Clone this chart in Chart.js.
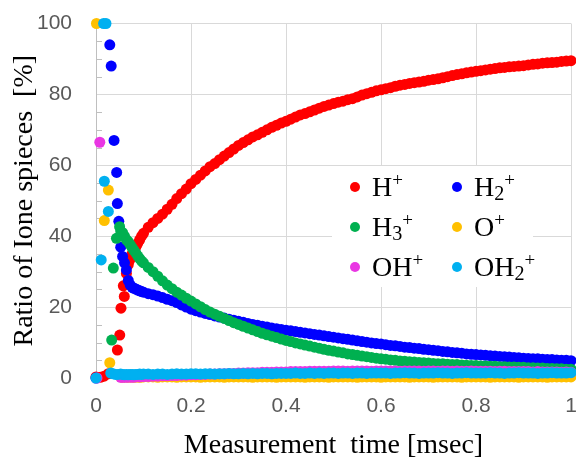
<!DOCTYPE html>
<html>
<head>
<meta charset="utf-8">
<script src="https://cdn.jsdelivr.net/npm/chart.js@4.4.1/dist/chart.umd.min.js"></script>
<style>
  body { margin: 0; background: #fff; }
  #wrap { position: relative; width: 576px; height: 458px; }
  #legend {
    position: absolute; left: 332px; top: 166px; width: 201px; height: 121px;
    background: #fff; font-family: "Liberation Serif", "Times New Roman", serif; font-size: 28px; color: #000;
  }
  .item { position: absolute; line-height: 28px; white-space: nowrap; }
  .dot { position: absolute; width: 10px; height: 10px; border-radius: 50%; }
  #legend sup { font-size: 0.68em; vertical-align: 0.5em; line-height: 0; }
  #legend sub { font-size: 0.72em; vertical-align: -0.22em; line-height: 0; }
</style>
</head>
<body>
<div id="wrap">
  <canvas id="chart" width="576" height="458"></canvas>
  <div id="legend"></div>
</div>
<script>
// shared sampling times of the smooth part of the curves [msec]
const timeMs = [0.052, 0.056, 0.060, 0.064, 0.068, 0.072, 0.076, 0.080, 0.084, 0.088, 0.092, 0.096, 0.100,
  0.11, 0.12, 0.13, 0.14, 0.15, 0.16, 0.17, 0.18, 0.19, 0.20,
  0.21, 0.22, 0.23, 0.24, 0.25, 0.26, 0.27, 0.28, 0.29, 0.30,
  0.31, 0.32, 0.33, 0.34, 0.35, 0.36, 0.37, 0.38, 0.39, 0.40,
  0.41, 0.42, 0.43, 0.44, 0.45, 0.46, 0.47, 0.48, 0.49, 0.50,
  0.51, 0.52, 0.53, 0.54, 0.55, 0.56, 0.57, 0.58, 0.59, 0.60,
  0.61, 0.62, 0.63, 0.64, 0.65, 0.66, 0.67, 0.68, 0.69, 0.70,
  0.71, 0.72, 0.73, 0.74, 0.75, 0.76, 0.77, 0.78, 0.79, 0.80,
  0.81, 0.82, 0.83, 0.84, 0.85, 0.86, 0.87, 0.88, 0.89, 0.90,
  0.91, 0.92, 0.93, 0.94, 0.95, 0.96, 0.97, 0.98, 0.99, 1.00];

// ratios [%] at timeMs
const hPlus = [null, null, null, 29.5, 32, 33.5, 35, 36, 37, 38, 39, 40, 40.8,
  42.5, 43.8, 45, 46.2, 47.6, 49, 50.6, 52, 53.3, 54.8,
  56, 57.2, 58.4, 59.6, 60.5, 61.6, 62.6, 63.6, 64.6, 65.6,
  66.4, 67.2, 68, 68.6, 69.3, 70, 70.7, 71.3, 71.9, 72.4,
  73, 73.6, 74.2, 74.6, 75.1, 75.6, 76.1, 76.6, 77, 77.4,
  77.8, 78.1, 78.5, 78.8, 79.3, 79.8, 80.2, 80.6, 81, 81.3,
  81.6, 81.9, 82.3, 82.6, 82.8, 83.1, 83.3, 83.5, 83.7, 84,
  84.2, 84.4, 84.7, 85, 85.3, 85.6, 85.8, 86.1, 86.3, 86.5,
  86.7, 86.9, 87.1, 87.3, 87.5, 87.6, 87.8, 87.9, 88, 88.1,
  88.3, 88.5, 88.6, 88.8, 88.9, 89, 89.1, 89.3, 89.4, 89.5];

const h2Plus = [36.9, 34.3, 32.5, 30.5, 27.5, 26.2, 25.6, 25.3, 25.1, 24.8, 24.6, 24.4, 24.2,
  23.8, 23.5, 23.1, 22.7, 22.2, 21.8, 21.3, 20.6, 20, 19.4,
  19, 18.6, 18.2, 17.9, 17.5, 17.2, 16.9, 16.6, 16.3, 16,
  15.7, 15.4, 15.1, 14.9, 14.6, 14.4, 14.1, 13.9, 13.7, 13.5,
  13.3, 13.1, 12.9, 12.7, 12.5, 12.3, 12.1, 11.9, 11.7, 11.5,
  11.3, 11.1, 10.9, 10.7, 10.5, 10.3, 10.1, 9.9, 9.7, 9.6,
  9.4, 9.2, 9.1, 8.9, 8.7, 8.6, 8.4, 8.3, 8.1, 8,
  7.8, 7.7, 7.5, 7.4, 7.2, 7.1, 7, 6.8, 6.7, 6.6,
  6.5, 6.4, 6.3, 6.2, 6.1, 6, 5.9, 5.8, 5.7, 5.6,
  5.5, 5.4, 5.4, 5.3, 5.2, 5.2, 5.1, 5, 5, 4.9];

const h3Plus = [41.5, 41, 40, 39, 38.5, 37.6, 36.8, 36, 35.2, 34.4, 33.7, 33, 32.5,
  31.2, 30, 28.7, 27.4, 26.2, 25.2, 24.2, 23.4, 22.5, 21.7,
  20.9, 20.1, 19.3, 18.6, 18, 17.4, 16.8, 16.2, 15.6, 15.1,
  14.6, 14.1, 13.6, 13.1, 12.6, 12.2, 11.8, 11.4, 11, 10.6,
  10.3, 9.9, 9.6, 9.3, 9, 8.7, 8.4, 8.1, 7.8, 7.6,
  7.3, 7.1, 6.8, 6.6, 6.4, 6.2, 6, 5.8, 5.6, 5.4,
  5.3, 5.1, 5, 4.8, 4.7, 4.6, 4.5, 4.4, 4.3, 4.2,
  4.1, 4, 4, 3.9, 3.8, 3.8, 3.7, 3.6, 3.5, 3.5,
  3.4, 3.4, 3.3, 3.3, 3.2, 3.2, 3.1, 3.1, 3, 3,
  2.9, 2.9, 2.8, 2.8, 2.7, 2.7, 2.6, 2.6, 2.5, 2.5];

const oPlus = [0.3, 0.2, 0.3, 0.3, 0.2, 0.3, 0.3, 0.2, 0.3, 0.3, 0.2, 0.3, 0.3,
  0.3, 0.3, 0.2, 0.3, 0.3, 0.3, 0.2, 0.3, 0.3, 0.3,
  0.3, 0.2, 0.3, 0.3, 0.3, 0.3, 0.2, 0.3, 0.3, 0.3,
  0.3, 0.3, 0.2, 0.3, 0.3, 0.3, 0.3, 0.2, 0.3, 0.3,
  0.3, 0.3, 0.3, 0.2, 0.3, 0.3, 0.3, 0.3, 0.2, 0.3,
  0.3, 0.3, 0.3, 0.3, 0.2, 0.3, 0.3, 0.3, 0.3, 0.2,
  0.3, 0.3, 0.3, 0.3, 0.3, 0.2, 0.3, 0.3, 0.3, 0.3,
  0.2, 0.3, 0.3, 0.3, 0.3, 0.3, 0.2, 0.3, 0.3, 0.3,
  0.3, 0.3, 0.2, 0.3, 0.3, 0.3, 0.3, 0.3, 0.2, 0.3,
  0.3, 0.3, 0.3, 0.3, 0.2, 0.3, 0.3, 0.3, 0.3, 0.3];

const ohPlus = [0.2, 0.2, 0.3, 0.2, 0.3, 0.3, 0.2, 0.3, 0.3, 0.4, 0.3, 0.4, 0.4,
  0.4, 0.5, 0.5, 0.6, 0.6, 0.7, 0.7, 0.8, 0.8, 0.9,
  0.9, 1.0, 1.0, 1.1, 1.1, 1.2, 1.2, 1.3, 1.3, 1.4,
  1.4, 1.5, 1.5, 1.5, 1.6, 1.6, 1.6, 1.7, 1.7, 1.7,
  1.8, 1.8, 1.8, 1.8, 1.9, 1.9, 1.9, 1.9, 1.9, 2.0,
  2.0, 2.0, 1.9, 2.0, 2.0, 2.0, 2.0, 1.9, 2.0, 2.0,
  2.0, 2.0, 2.0, 1.9, 2.0, 2.0, 2.0, 2.0, 1.9, 2.0,
  2.0, 1.9, 2.0, 2.0, 1.9, 2.0, 1.9, 1.9, 2.0, 1.9,
  1.9, 1.9, 1.9, 1.8, 1.9, 1.9, 1.8, 1.8, 1.8, 1.8,
  1.8, 1.7, 1.8, 1.7, 1.7, 1.7, 1.7, 1.6, 1.7, 1.6];

const oh2Plus = [1.1, 1.0, 0.9, 1.0, 0.9, 1.0, 1.0, 0.9, 1.0, 1.0, 1.1, 1.0, 1.1,
  1.1, 1.0, 1.1, 1.1, 1.0, 1.1, 1.2, 1.1, 1.1, 1.2,
  1.2, 1.1, 1.2, 1.2, 1.1, 1.2, 1.2, 1.3, 1.2, 1.2,
  1.3, 1.2, 1.3, 1.2, 1.3, 1.3, 1.2, 1.3, 1.3, 1.3,
  1.3, 1.4, 1.3, 1.3, 1.4, 1.3, 1.4, 1.3, 1.4, 1.4,
  1.3, 1.4, 1.4, 1.3, 1.4, 1.4, 1.3, 1.4, 1.4, 1.4,
  1.4, 1.3, 1.4, 1.4, 1.5, 1.4, 1.4, 1.3, 1.4, 1.4,
  1.4, 1.5, 1.4, 1.4, 1.3, 1.4, 1.4, 1.5, 1.4, 1.4,
  1.4, 1.4, 1.5, 1.4, 1.4, 1.3, 1.4, 1.4, 1.5, 1.4,
  1.4, 1.4, 1.3, 1.4, 1.4, 1.5, 1.4, 1.4, 1.4, 1.5];

// scattered points of the first ~0.05 msec, [time, ratio]
const hPlusEarly = [[0, 0.3], [0.009, 0.2], [0.017, 0.5], [0.026, 1.2], [0.045, 7.9], [0.050, 12.1], [0.0526, 19.7], [0.0575, 26], [0.0596, 23]];
const h2PlusEarly = [[0, 0], [0.029, 94], [0.032, 88], [0.038, 67], [0.0435, 58], [0.045, 49.2], [0.048, 44.2]];
const h3PlusEarly = [[0.033, 10.7], [0.0365, 31], [0.043, 39.4], [0.0497, 42.7]];
const oPlusEarly = [[0.001, 100], [0.0175, 44.4], [0.026, 53], [0.029, 4.3]];
const ohPlusEarly = [[0.002, 0], [0.008, 66.5]];
const oh2PlusEarly = [[0, 0], [0.016, 100], [0.021, 100], [0.011, 33.3], [0.0175, 55.5], [0.026, 47], [0.031, 1.4], [0.036, 1.2], [0.041, 1.0], [0.046, 1.0]];

const seriesNames = ['H<sup>+</sup>', 'H<sub>2</sub><sup>+</sup>', 'H<sub>3</sub><sup>+</sup>', 'O<sup>+</sup>', 'OH<sup>+</sup>', 'OH<sub>2</sub><sup>+</sup>'];
const seriesColors = ['#ff0000', '#0000ff', '#00b050', '#ffc000', '#e936e3', '#00b0f0'];
const seriesValues = [hPlus, h2Plus, h3Plus, oPlus, ohPlus, oh2Plus];
const seriesEarly = [hPlusEarly, h2PlusEarly, h3PlusEarly, oPlusEarly, ohPlusEarly, oh2PlusEarly];

const xTicks = [0, 0.2, 0.4, 0.6, 0.8, 1];
const minorStep = 5;

function toPoints(early, values) {
    const pts = early.map(([x, y]) => ({ x, y }));
    values.forEach((v, i) => {
        if (v !== null) pts.push({ x: timeMs[i], y: v });
    });
    return pts;
}

// fixed axis sizes, no label overhang padding
function fixSize(prop, size) {
    return (s) => {
        s[prop] = size;
        s.paddingTop = 0;
        s.paddingBottom = 0;
        s.paddingLeft = 0;
        s.paddingRight = 0;
    };
}

// small inner ticks on the y axis every 5 %
const minorTicks = {
    id: 'minorTicks',
    beforeDatasetsDraw(chart) {
        const { ctx, chartArea } = chart;
        const y = chart.scales.y;
        ctx.save();
        ctx.strokeStyle = '#bfbfbf';
        ctx.lineWidth = 1;
        for (let v = minorStep; v < 100; v += minorStep) {
            if (v % 20 === 0) continue;
            const py = Math.round(y.getPixelForValue(v)) + 0.5;
            ctx.beginPath();
            ctx.moveTo(chartArea.left, py);
            ctx.lineTo(chartArea.left + 6, py);
            ctx.stroke();
        }
        ctx.restore();
    },
};

const tickFont = { family: '"Liberation Sans", Arial, sans-serif', size: 21 };
const serif = '"Liberation Serif", "Times New Roman", serif';

const ctx = document.getElementById('chart').getContext('2d');
const chart = new Chart(ctx, {
    type: 'scatter',
    data: {
        datasets: seriesValues.map((vals, i) => ({
            label: seriesNames[i],
            data: toPoints(seriesEarly[i], vals),
            backgroundColor: seriesColors[i],
            borderWidth: 0,
            pointRadius: 5.5,
            pointHoverRadius: 5.5,
            clip: false,
            order: seriesValues.length - i,
        })),
    },
    options: {
        responsive: false,
        animation: false,
        devicePixelRatio: 1,
        layout: { autoPadding: false, padding: { top: 23.5, right: 5, left: 0, bottom: 0 } },
        plugins: { legend: { display: false }, tooltip: { enabled: false } },
        scales: {
            x: {
                type: 'linear',
                min: 0,
                max: 1,
                afterBuildTicks: (s) => { s.ticks = xTicks.map((v) => ({ value: v })); },
                afterFit: fixSize('height', 80),
                ticks: {
                    font: tickFont,
                    color: '#595959',
                    padding: 16,
                    maxRotation: 0,
                    callback: (v) => String(Math.round(v * 10) / 10),
                },
                grid: { color: '#d9d9d9', drawTicks: false },
                border: { color: '#bfbfbf' },
                title: {
                    display: true,
                    text: 'Measurement  time [msec]',
                    font: { family: serif, size: 28, lineHeight: 0.85 },
                    color: '#000',
                    padding: { top: 0, bottom: 0 },
                },
            },
            y: {
                min: 0,
                max: 100,
                afterFit: fixSize('width', 96),
                ticks: { stepSize: 20, font: tickFont, color: '#595959', padding: 24 },
                grid: { color: '#d9d9d9', drawTicks: false },
                border: { color: '#bfbfbf' },
                title: {
                    display: true,
                    text: 'Ratio of Ione spieces  [%]',
                    font: { family: serif, size: 28, lineHeight: 1 },
                    color: '#000',
                    padding: { top: 11, bottom: 0 },
                },
            },
        },
    },
    plugins: [minorTicks],
});

// legend with sub/superscripts, two columns
const legendEl = document.getElementById('legend');
seriesNames.forEach((name, i) => {
    const col = i % 2;
    const row = Math.floor(i / 2);
    const dot = document.createElement('div');
    dot.className = 'dot';
    dot.style.background = seriesColors[i];
    dot.style.left = (18 + col * 102) + 'px';
    dot.style.top = (15.5 + row * 40) + 'px';
    legendEl.appendChild(dot);
    const item = document.createElement('div');
    item.className = 'item';
    item.innerHTML = name;
    item.style.left = (40 + col * 102) + 'px';
    item.style.top = (7 + row * 40) + 'px';
    legendEl.appendChild(item);
});
</script>
</body>
</html>
